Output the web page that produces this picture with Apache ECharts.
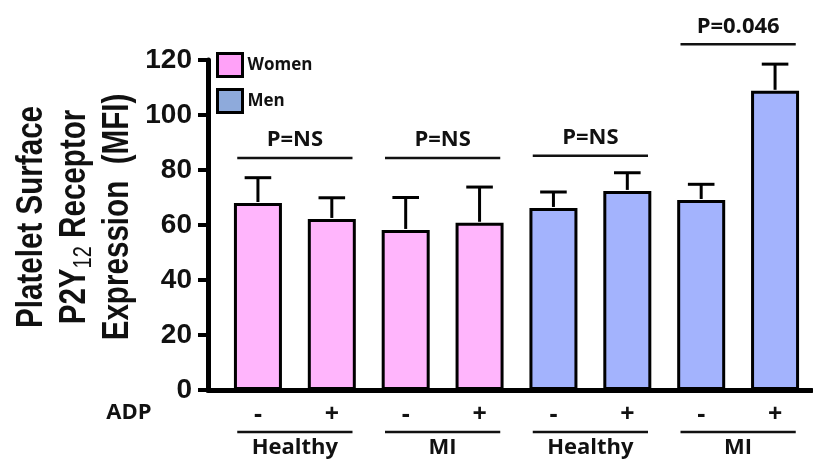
<!DOCTYPE html>
<html>
<head>
<meta charset="utf-8">
<script src="https://cdn.jsdelivr.net/npm/echarts@6/dist/echarts.min.js"></script>
<style>
  html, body { margin: 0; padding: 0; background: #fff; }
  #chart { width: 813px; height: 462px; }
</style>
</head>
<body>
<div id="chart"></div>
<script>
// ADP treatment per bar, grouped as Women (4) then Men (4)
const adp = ['-', '+', '-', '+', '-', '+', '-', '+']
const groupNames = ['Healthy', 'MI', 'Healthy', 'MI']
const women = [68, 62.2, 58.2, 60.8, null, null, null, null]
const men = [null, null, null, null, 66.2, 72.4, 69.1, 108.8]
const errors = [9.2, 7.7, 11.8, 13.0, 5.8, 6.6, 5.7, 9.7]
const yTicks = [0, 20, 40, 60, 80, 100, 120]
// significance brackets: [first bar, second bar, y value, label]
const brackets = [
  [0, 1, 84.4, 'P=NS'],
  [2, 3, 84.4, 'P=NS'],
  [4, 5, 85.2, 'P=NS'],
  [6, 7, 125.7, 'P=0.046']
]

const means = adp.map((a, i) => women[i] != null ? women[i] : men[i])
const labelFont = '"Open Sans", "Liberation Sans", sans-serif'
const titleFont = '"Liberation Sans", Arial, sans-serif'

let myChart = echarts.init(document.getElementById('chart'))

myChart.setOption({
  animation: false,
  backgroundColor: '#fff',
  legend: {
    orient: 'vertical',
    left: 216,
    top: 52,
    padding: 0,
    itemWidth: 25,
    itemHeight: 23,
    itemGap: 10,
    icon: 'rect',
    textStyle: { fontFamily: labelFont, fontWeight: 'bold', fontSize: 17, color: '#111' },
    data: [
      { name: 'Women', itemStyle: { color: '#ffa1f8', borderColor: '#000', borderWidth: 3 } },
      { name: 'Men', itemStyle: { color: '#8eaadb', borderColor: '#000', borderWidth: 3 } }
    ]
  },
  grid: [
    { left: 221, right: 1, top: 60, bottom: 72 },
    { left: 208, right: 1, top: 60, bottom: 72 }
  ],
  xAxis: [
    {
      type: 'category',
      gridIndex: 0,
      data: adp,
      axisLine: { show: false },
      axisTick: { show: false },
      axisLabel: {
        margin: 12,
        fontFamily: labelFont,
        fontWeight: 'bold',
        fontSize: 25,
        color: '#111'
      }
    },
    {
      type: 'value',
      gridIndex: 1,
      axisLine: { show: true, lineStyle: { color: '#000', width: 5 } },
      axisTick: { show: false },
      axisLabel: { show: false },
      splitLine: { show: false }
    }
  ],
  yAxis: [
    {
      type: 'value',
      gridIndex: 0,
      min: 0,
      max: 120,
      show: false
    },
    {
      type: 'value',
      gridIndex: 1,
      min: yTicks[0],
      max: yTicks[yTicks.length - 1],
      interval: yTicks[1] - yTicks[0],
      axisLine: { show: true, lineStyle: { color: '#000', width: 5 } },
      axisTick: { show: true, length: 10, lineStyle: { color: '#000', width: 4 } },
      axisLabel: {
        margin: 16,
        fontFamily: titleFont,
        fontWeight: 'bold',
        fontSize: 28,
        color: '#111'
      },
      splitLine: { show: false }
    }
  ],
  graphic: [
    {
      type: 'text',
      x: 75,
      y: 217,
      rotation: Math.PI / 2,
      scaleX: 0.8,
      style: {
        text: 'Platelet Surface\n{n|P2Y}{sub|12}{n| Receptor}\nExpression  (MFI)',
        fontFamily: titleFont,
        fontWeight: 'bold',
        fontSize: 37,
        lineHeight: 43,
        fill: '#111',
        align: 'center',
        verticalAlign: 'middle',
        rich: {
          n: {
            fontFamily: titleFont,
            fontWeight: 'bold',
            fontSize: 37,
            lineHeight: 43,
            fill: '#111'
          },
          sub: {
            fontFamily: titleFont,
            fontSize: 25,
            lineHeight: 14,
            verticalAlign: 'bottom',
            fill: '#111'
          }
        }
      }
    },
    {
      type: 'text',
      x: 129,
      y: 413,
      style: {
        text: 'ADP',
        fontFamily: labelFont,
        fontWeight: 'bold',
        fontSize: 22,
        fill: '#111',
        align: 'center',
        verticalAlign: 'middle'
      }
    }
  ],
  series: [
    {
      name: 'Women',
      type: 'bar',
      xAxisIndex: 0,
      yAxisIndex: 0,
      data: women,
      barWidth: 48,
      barGap: '-100%',
      itemStyle: { color: '#ffb5fc', borderColor: '#000', borderWidth: 3 }
    },
    {
      name: 'Men',
      type: 'bar',
      xAxisIndex: 0,
      yAxisIndex: 0,
      data: men,
      barWidth: 48,
      barGap: '-100%',
      itemStyle: { color: '#a3b3fd', borderColor: '#000', borderWidth: 3 }
    },
    {
      // error bars (upper only)
      type: 'custom',
      xAxisIndex: 0,
      yAxisIndex: 0,
      z: 3,
      data: means.map((m, i) => [i, m, errors[i]]),
      encode: { x: 0, y: 1 },
      renderItem: function (params, api) {
        let base = api.coord([api.value(0), api.value(1)])
        let top = api.coord([api.value(0), api.value(1) + api.value(2)])
        let half = api.size([1, 0])[0] * 0.18
        let style = { stroke: '#000', lineWidth: 3 }
        return {
          type: 'group',
          children: [
            { type: 'line', shape: { x1: base[0], y1: base[1] - 1, x2: top[0], y2: top[1] }, style: style },
            { type: 'line', shape: { x1: top[0] - half, y1: top[1], x2: top[0] + half, y2: top[1] }, style: style }
          ]
        }
      }
    },
    {
      // significance brackets
      type: 'custom',
      xAxisIndex: 0,
      yAxisIndex: 0,
      z: 3,
      data: brackets,
      encode: { x: [0, 1], y: 2 },
      renderItem: function (params, api) {
        let a = api.coord([api.value(0), api.value(2)])
        let b = api.coord([api.value(1), api.value(2)])
        let mid = (a[0] + b[0]) / 2
        let half = api.size([1, 0])[0] * 0.78
        return {
          type: 'group',
          children: [
            { type: 'line', shape: { x1: mid - half, y1: a[1], x2: mid + half, y2: a[1] }, style: { stroke: '#111', lineWidth: 2.5 } },
            {
              type: 'text',
              x: mid,
              y: a[1] - 18,
              style: {
                text: brackets[params.dataIndex][3],
                fontFamily: labelFont,
                fontWeight: 'bold',
                fontSize: 22,
                fill: '#111',
                align: 'center',
                verticalAlign: 'middle'
              }
            }
          ]
        }
      }
    },
    {
      // group labels under the axis
      type: 'custom',
      xAxisIndex: 0,
      yAxisIndex: 0,
      z: 3,
      data: groupNames.map((g, i) => [i * 2, i * 2 + 1, 0]),
      encode: { x: [0, 1], y: 2 },
      renderItem: function (params, api) {
        let a = api.coord([api.value(0), 0])
        let b = api.coord([api.value(1), 0])
        let mid = (a[0] + b[0]) / 2
        let half = api.size([1, 0])[0] * 0.78
        return {
          type: 'group',
          children: [
            { type: 'line', shape: { x1: mid - half, y1: a[1] + 42, x2: mid + half, y2: a[1] + 42 }, style: { stroke: '#111', lineWidth: 2.5 } },
            {
              type: 'text',
              x: mid,
              y: a[1] + 58,
              style: {
                text: groupNames[params.dataIndex],
                fontFamily: labelFont,
                fontWeight: 'bold',
                fontSize: 22,
                fill: '#111',
                align: 'center',
                verticalAlign: 'middle'
              }
            }
          ]
        }
      }
    }
  ]
})
</script>
</body>
</html>
